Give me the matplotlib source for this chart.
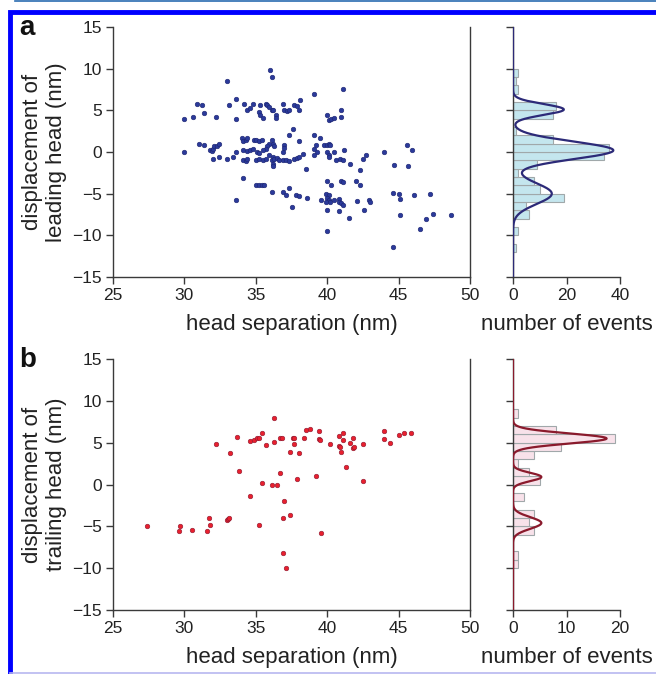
import numpy as np
import matplotlib.pyplot as plt
from matplotlib.patches import Rectangle
from matplotlib.lines import Line2D

plt.rcParams['font.family'] = ['Liberation Sans', 'DejaVu Sans']

# panel a: leading head
sep_a = [30.0, 30.0, 30.6, 30.9, 31.2, 31.4, 32.2, 31.0, 31.4, 31.8, 31.9, 32.0, 32.1, 32.3, 32.4,
         32.0, 32.4, 33.0, 33.0, 33.1, 33.6, 33.6, 33.4, 33.6, 33.6, 34.1, 34.0, 34.1, 34.3, 34.4,
         34.1, 34.4, 34.1, 34.3, 34.4, 34.2, 34.4, 34.6, 34.8, 34.9, 35.0, 35.2, 35.4, 34.6, 34.8,
         35.1, 35.2, 35.0, 35.2, 35.5, 35.7, 35.0, 35.2, 35.4, 35.6, 35.2, 35.3, 35.5, 35.3, 35.7,
         35.8, 35.9, 36.1, 36.2, 35.9, 35.8, 35.7, 35.5, 36.0, 36.1, 36.1, 36.2, 36.3, 36.2, 36.1,
         36.2, 36.2, 35.95, 36.3, 36.5, 36.6, 36.1, 36.4, 36.4, 36.9, 37.0, 37.2, 37.3, 36.9, 37.0,
         37.0, 36.9, 37.1, 37.3, 36.9, 37.1, 37.3, 37.3, 37.6, 37.5, 37.7, 37.9, 38.0, 38.3, 37.7,
         37.9, 38.0, 38.1, 37.8, 38.0, 38.0, 38.5, 38.6, 39.1, 39.1, 39.1, 39.2, 39.3, 39.1, 39.5,
         39.6, 39.8, 40.0, 40.1, 40.2, 40.0, 40.1, 40.3, 40.5, 40.0, 40.1, 40.1, 40.0, 40.3, 39.9,
         40.1, 40.0, 40.1, 40.2, 39.9, 40.0, 40.0, 40.5, 40.6, 40.9, 41.1, 40.5, 40.8, 40.8, 41.0,
         41.1, 40.8, 41.0, 41.0, 41.1, 41.0, 41.1, 41.2, 41.5, 41.6, 42.0, 42.3, 42.1, 42.3, 42.5,
         42.7, 42.6, 42.9, 43.0, 43.95, 44.6, 44.7, 45.0, 45.1, 44.6, 45.1, 45.6, 45.65, 45.95, 46.05,
         46.5, 46.9, 47.2, 47.4, 48.7]
disp_a = [4.0, 0.0, 4.2, 5.8, 5.7, 4.7, 4.2, 1.0, 0.8, 0.3, 0.1, 0.4, 0.7, 0.7, 1.0,
          -0.8, -0.6, -0.8, 8.5, 5.7, 6.4, 4.0, -0.6, 0.0, -5.8, -3.1, 1.7, 1.3, 1.4, 1.7,
          0.3, 0.1, -0.9, -1.1, -0.8, 5.8, 5.1, 5.3, 5.8, 1.5, 1.4, 1.3, 1.4, 0.3, 0.4,
          0.0, -0.1, -0.9, -0.8, -0.9, -0.8, -4.0, -4.0, -4.0, -4.0, 4.8, 4.4, 4.1, 5.6, 5.8,
          5.6, 5.4, 5.0, 5.1, 1.0, 0.7, 0.4, 0.2, 9.8, 9.0, 1.5, 1.0, 0.7, -0.6, -1.0,
          -1.4, -1.7, -0.4, -0.8, -0.7, -0.9, -4.8, 4.5, 4.1, 5.8, 5.1, 4.9, 5.0, 0.0, 0.8,
          0.5, -1.0, -1.0, -1.1, -4.8, -5.2, -4.3, 2.1, 2.8, -6.6, -0.8, -0.7, -0.6, -0.2, 5.7,
          5.5, 5.0, 6.3, -5.1, -5.3, 1.3, -2.0, -5.5, 7.0, 2.1, 0.4, 0.9, 0.0, -0.4, 1.7,
          -5.7, 0.9, 0.9, 1.0, 0.9, 4.5, 3.8, 4.0, 4.1, 0.0, -0.3, -0.6, -3.5, -3.9, -5.0,
          -5.2, -5.5, -5.7, -6.0, -6.0, -7.0, -9.5, 0.0, -1.0, -0.8, -1.0, -5.8, -5.6, -6.0, -6.1,
          -6.4, -7.1, 4.2, 5.1, 7.6, -3.5, -3.6, 0.3, -7.9, -1.4, -3.5, -4.0, -5.9, -2.2, -0.8,
          -0.3, -6.9, -5.8, -6.0, 0.0, -4.9, -1.5, -5.0, -5.6, -11.4, -7.5, 0.9, -1.7, 0.3, -5.1,
          -9.2, -8.0, -5.0, -7.4, -7.6]

# histogram a, 1 nm bins starting at bin_lo
bins_a = [-12, -11, -10, -9, -8, -7, -6, -5, -4, -3, -2, -1, 0, 1, 2, 3, 4, 5, 6, 7, 8, 9]
counts_a = [1, 0, 2, 0, 6, 5, 19, 10, 8, 2, 9, 34, 36, 15, 1, 0, 15, 16, 0, 2, 1, 2]
# gaussian fit (centre, amplitude, sigma)
fit_a = [(5.1, 19.0, 0.65), (0.2, 37.5, 1.05), (-5.0, 14.5, 1.25)]

# panel b: trailing head
sep_b = [27.4, 29.6, 29.7, 30.5, 31.6, 31.7, 31.8, 32.2, 33.0, 33.05, 33.1, 33.2, 33.7, 33.8,
         34.6, 34.6, 34.9, 35.1, 35.2, 35.4, 35.2, 35.4, 35.7, 36.1, 36.5, 36.3, 36.3, 36.7,
         36.8, 36.7, 36.9, 36.9, 37.0, 37.1, 37.4, 37.4, 37.6, 37.7, 37.7, 37.9, 38.0, 38.4,
         38.5, 38.8, 39.2, 39.4, 39.4, 39.5, 39.6, 40.2, 40.8, 41.1, 41.1, 40.8, 40.9, 41.0,
         41.3, 41.6, 41.8, 41.8, 41.9, 42.5, 42.5, 44.0, 44.0, 44.4, 45.0, 45.4, 45.9]
disp_b = [-5.0, -5.6, -5.0, -5.4, -5.6, -4.0, -4.8, 4.8, -4.3, -4.1, -4.0, 3.8, 5.7, 1.6,
          -1.4, 5.2, 5.3, 5.5, 5.6, 6.1, -4.8, 0.2, 4.7, 0.0, 0.0, 8.0, 5.1, 5.5,
          5.6, 1.4, -4.0, -8.2, -2.0, -10.0, -3.6, 3.9, 5.5, 5.6, 4.8, 0.6, 3.8, 5.6,
          6.5, 6.6, 1.0, 6.4, 5.4, 5.3, -5.8, 4.8, 5.8, 6.1, 5.3, 4.6, 4.5, 3.9,
          2.1, 5.0, 5.6, 4.4, 4.5, 4.8, 0.4, 6.4, 5.4, 5.0, 5.9, 6.1, 6.1]

bins_b = [-10, -9, -8, -7, -6, -5, -4, -3, -2, -1, 0, 1, 2, 3, 4, 5, 6, 7, 8]
counts_b = [1, 1, 0, 0, 4, 3, 4, 0, 2, 0, 5, 3, 1, 4, 9, 19, 8, 0, 1]
fit_b = [(5.5, 17.5, 0.6), (0.9, 5.3, 0.5), (-4.6, 5.3, 0.7)]

W, H = 656, 674
fig = plt.figure(figsize=(W / 100, H / 100), dpi=100)

spine_col = '#3a3a3a'
text_col = '#222222'


def box(l, t, r, b):
    return [l / W, 1 - b / H, (r - l) / W, (b - t) / H]


def style(ax, right=False):
    for s in ['top', 'right']:
        ax.spines[s].set_visible(False)
    if right:
        ax.spines['right'].set_visible(True)
    for s in ax.spines.values():
        s.set_color(spine_col)
        s.set_linewidth(1.0)
    ax.tick_params(direction='out', length=5, width=1, color=spine_col,
                   labelsize=12.5, labelcolor=text_col, pad=3)
    ax.set_ylim(-15, 15)
    ax.set_yticks([-15, -10, -5, 0, 5, 10, 15])


def gauss_sum(y, fit):
    return sum(a * np.exp(-(y - c) ** 2 / (2 * s ** 2)) for c, a, s in fit)


panels = [
    (27, 277, sep_a, disp_a, '#2b3a9a', '#1c2470', bins_a, counts_a, fit_a, 40, [0, 20, 40],
     '#c4e6ee', '#2c2a78', 'displacement of\nleading head (nm)', 'a'),
    (359, 610, sep_b, disp_b, '#e8202e', '#8a1830', bins_b, counts_b, fit_b, 20, [0, 10, 20],
     '#f8e2ea', '#8a1a2c', 'displacement of\ntrailing head (nm)', 'b'),
]

for top, bot, xs, ys, col, ecol, bins, counts, fit, hmax, hticks, fill, lcol, ylab, tag in panels:
    ax = fig.add_axes(box(113, top, 470, bot))
    ax.scatter(xs, ys, s=11, color=col, edgecolors=ecol, linewidths=0.4, zorder=3)
    ax.set_xlim(25, 50)
    ax.set_xticks([25, 30, 35, 40, 45, 50])
    style(ax, right=True)
    ax.tick_params(axis='y', right=False)
    ax.set_xlabel('head separation (nm)', fontsize=16, color=text_col, labelpad=8)
    ax.set_ylabel(ylab, fontsize=16, color=text_col, labelpad=4, linespacing=1.15)

    hx = fig.add_axes(box(513, top, 620, bot))
    hx.barh(np.array(bins) + 0.5, counts, height=1.0, left=0, color=fill,
            edgecolor='#a0a8aa', linewidth=0.8, zorder=2)
    yy = np.linspace(-15, 15, 600)
    hx.plot(gauss_sum(yy, fit), yy, color=lcol, lw=1.6, zorder=3)
    hx.set_xlim(0, hmax)
    hx.set_xticks(hticks)
    style(hx)
    hx.set_yticklabels([])
    hx.set_xlabel('number of events', fontsize=16, color=text_col, labelpad=8)

    fig.text(19 / W, 1 - (top + 1) / H, tag, fontsize=20, fontweight='bold',
             color='#111111', va='center', ha='left')

# figure frame
fig.add_artist(Rectangle((10 / W, -0.01), 1.0, 1 - 12 / H + 0.01, transform=fig.transFigure,
                         fill=False, edgecolor='#0000ff', linewidth=3.5))
fig.add_artist(Line2D([15 / W, 1], [1 - 0.8 / H, 1 - 0.8 / H], transform=fig.transFigure,
                      color='#2a6cb0', linewidth=1.2))
fig.add_artist(Line2D([10 / W, 1], [1 - 673 / H, 1 - 673 / H], transform=fig.transFigure,
                      color='#b8b8f0', linewidth=1.2))

fig.savefig('out.png', dpi=100)
